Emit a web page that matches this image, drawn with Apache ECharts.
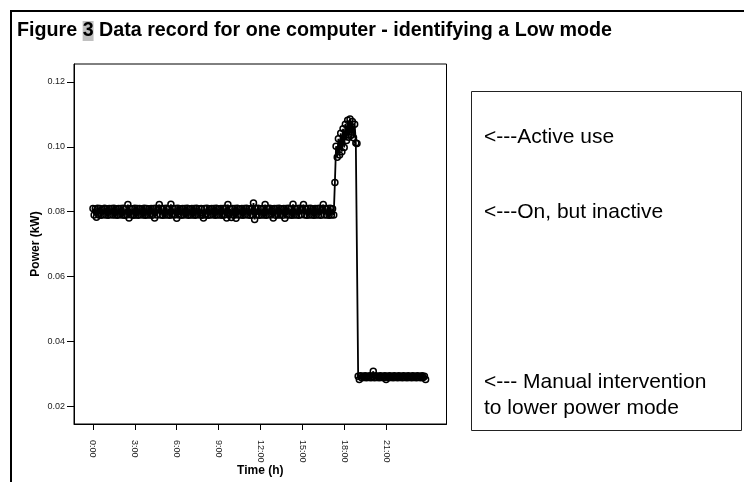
<!DOCTYPE html>
<html>
<head>
<meta charset="utf-8">
<script src="https://cdn.jsdelivr.net/npm/echarts@6/dist/echarts.min.js"></script>
<style>
html,body{margin:0;padding:0;background:#fff;}
#chart{width:744px;height:482px;}
</style>
</head>
<body>
<div id="chart"></div>
<script>
// Sampling: one reading every 5 minutes, starting at 0:00
const sampleMinutes = 5;
const startHour = 0;

// Power (kW) readings
// 0:00 - 17:15  "On, but inactive"
const inactiveKW = [
  0.0810,0.0790,0.0809,0.0783,0.0811,0.0790,0.0810,0.0789,0.0808,0.0791,0.0811,0.0790,
  0.0809,0.0789,0.0810,0.0791,0.0810,0.0790,0.0811,0.0790,0.0809,0.0789,0.0810,0.0791,
  0.0810,0.0790,0.0811,0.0789,0.0809,0.0790,0.0822,0.0781,0.0810,0.0790,0.0809,0.0789,
  0.0811,0.0790,0.0810,0.0789,0.0810,0.0791,0.0809,0.0790,0.0811,0.0789,0.0810,0.0790,
  0.0809,0.0790,0.0810,0.0789,0.0810,0.0781,0.0811,0.0790,0.0809,0.0822,0.0790,0.0810,
  0.0789,0.0810,0.0790,0.0811,0.0790,0.0809,0.0789,0.0823,0.0791,0.0810,0.0790,0.0810,
  0.0780,0.0811,0.0790,0.0809,0.0789,0.0810,0.0790,0.0810,0.0791,0.0811,0.0789,0.0809,
  0.0790,0.0810,0.0790,0.0810,0.0789,0.0811,0.0791,0.0809,0.0790,0.0810,0.0789,0.0781,
  0.0810,0.0790,0.0811,0.0789,0.0809,0.0790,0.0810,0.0791,0.0810,0.0789,0.0811,0.0790,
  0.0809,0.0790,0.0810,0.0789,0.0810,0.0790,0.0811,0.0781,0.0822,0.0790,0.0809,0.0782,
  0.0810,0.0789,0.0810,0.0780,0.0811,0.0790,0.0809,0.0790,0.0810,0.0789,0.0810,0.0791,
  0.0811,0.0790,0.0809,0.0789,0.0810,0.0790,0.0827,0.0776,0.0810,0.0790,0.0811,0.0789,
  0.0809,0.0790,0.0810,0.0790,0.0822,0.0789,0.0810,0.0791,0.0811,0.0790,0.0809,0.0781,
  0.0810,0.0789,0.0810,0.0790,0.0811,0.0790,0.0809,0.0789,0.0810,0.0780,0.0810,0.0790,
  0.0811,0.0790,0.0809,0.0789,0.0823,0.0790,0.0810,0.0790,0.0810,0.0789,0.0811,0.0791,
  0.0809,0.0822,0.0790,0.0810,0.0789,0.0810,0.0790,0.0811,0.0790,0.0809,0.0789,0.0810,
  0.0790,0.0810,0.0790,0.0811,0.0789,0.0809,0.0822,0.0790,0.0810,0.0790,0.0810,0.0789,
  0.0811,0.0790,0.0809,0.0790
];
// 17:20 transition reading
const transitionKW = [0.0890];
// 17:25 - 18:55  "Active use"
const activeKW = [
  0.1002,0.0968,0.1025,0.0975,0.1042,0.0985,0.1056,0.0998,0.1070,0.1020,
  0.1082,0.1030,0.1086,0.1036,0.1078,0.1028,0.1070,0.1012,0.1010
];
// 19:00 - 23:50  after manual intervention (low power mode)
const lowKW = [
  0.0293,0.0283,0.0294,0.0288,0.0293,0.0289,0.0294,0.0288,0.0293,0.0289,0.0294,0.0288,
  0.0293,0.0308,0.0288,0.0294,0.0289,0.0293,0.0288,0.0294,0.0289,0.0293,0.0288,0.0294,
  0.0283,0.0293,0.0288,0.0294,0.0289,0.0293,0.0288,0.0294,0.0289,0.0293,0.0288,0.0294,
  0.0289,0.0293,0.0288,0.0294,0.0289,0.0293,0.0288,0.0294,0.0289,0.0293,0.0288,0.0294,
  0.0289,0.0293,0.0288,0.0294,0.0289,0.0293,0.0288,0.0294,0.0289,0.0293,0.0283
];

const xTickHours = [0, 3, 6, 9, 12, 15, 18, 21];
const xTickLabels = ['0:00','3:00','6:00','9:00','12:00','15:00','18:00','21:00'];
const yTickValues = [0.02, 0.04, 0.06, 0.08, 0.10, 0.12];
const yTickLabels = ['0.02','0.04','0.06','0.08','0.10','0.12'];

const titleText = 'Figure {hl|3} Data record for one computer - identifying a Low mode';
const notes = ['<---Active use', '<---On, but inactive', '<--- Manual intervention', 'to lower power mode'];

const allKW = inactiveKW.concat(transitionKW, activeKW, lowKW);
const seriesData = allKW.map((v, i) => [startHour + i * sampleMinutes / 60, v]);

const chart = echarts.init(document.getElementById('chart'), null, {renderer: 'canvas'});
const FONT = '"Liberation Sans", Arial, sans-serif';

chart.setOption({
  animation: false,
  backgroundColor: '#fff',
  title: {
    text: titleText,
    left: 17,
    top: 21,
    padding: 0,
    textStyle: {
      fontFamily: FONT, fontSize: 19.7, fontWeight: 'bold', color: '#000',
      rich: {
        hl: {fontFamily: FONT, fontSize: 19.7, fontWeight: 'bold', color: '#000', backgroundColor: '#c0c0c0'}
      }
    }
  },
  grid: {
    left: 74, top: 64, width: 372.5, height: 366.5,
    show: true, borderColor: '#000', borderWidth: 1, backgroundColor: '#fff',
    containLabel: false
  },
  xAxis: {
    type: 'value',
    min: -1.36, max: 25.33,
    name: 'Time (h)',
    nameLocation: 'middle',
    nameGap: 41,
    nameMoveOverlap: false,
    nameTextStyle: {fontFamily: FONT, fontSize: 12, fontWeight: 'bold', color: '#000'},
    axisLine: {show: true, onZero: false, lineStyle: {color: '#000', width: 1}},
    splitLine: {show: false},
    axisTick: {show: true, inside: false, length: 6, lineStyle: {color: '#000', width: 1}, customValues: xTickHours},
    axisLabel: {
      customValues: xTickHours,
      rotate: -90, margin: 16,
      hideOverlap: false,
      fontFamily: FONT, fontSize: 9, color: '#222',
      formatter: (v) => xTickLabels[xTickHours.indexOf(Math.round(v))] || ''
    }
  },
  yAxis: {
    type: 'value',
    min: 0.01455, max: 0.12555,
    name: 'Power (kW)',
    nameLocation: 'middle',
    nameGap: 32,
    nameMoveOverlap: false,
    nameTextStyle: {fontFamily: FONT, fontSize: 12, fontWeight: 'bold', color: '#000'},
    axisLine: {show: true, onZero: false, lineStyle: {color: '#000', width: 1}},
    splitLine: {show: false},
    axisTick: {show: true, inside: false, length: 7, lineStyle: {color: '#000', width: 1}, customValues: yTickValues},
    axisLabel: {
      customValues: yTickValues,
      margin: 9,
      hideOverlap: false,
      fontFamily: FONT, fontSize: 9, color: '#222',
      formatter: (v) => {
        const i = yTickValues.findIndex(t => Math.abs(t - v) < 1e-6);
        return i >= 0 ? yTickLabels[i] : '';
      }
    }
  },
  series: [{
    type: 'line',
    data: seriesData,
    symbol: 'circle',
    symbolSize: 6,
    showSymbol: true,
    showAllSymbol: true,
    lineStyle: {color: '#000', width: 1.8},
    itemStyle: {color: 'rgba(0,0,0,0)', borderColor: '#000', borderWidth: 1.5},
    emphasis: {disabled: true},
    z: 3
  }],
  graphic: [
    {type: 'line', shape: {x1: 10, y1: 11, x2: 744, y2: 11}, style: {stroke: '#000', lineWidth: 2}, silent: true},
    {type: 'line', shape: {x1: 11, y1: 10, x2: 11, y2: 482}, style: {stroke: '#000', lineWidth: 2}, silent: true},
    {type: 'rect', shape: {x: 471.5, y: 91.5, width: 270, height: 339}, style: {fill: '#fff', stroke: '#222', lineWidth: 1}, silent: true},
    {type: 'text', style: {text: notes[0], x: 484, y: 137, font: '21px ' + FONT, fill: '#000', verticalAlign: 'middle'}, silent: true},
    {type: 'text', style: {text: notes[1], x: 484, y: 212, font: '21px ' + FONT, fill: '#000', verticalAlign: 'middle'}, silent: true},
    {type: 'text', style: {text: notes[2], x: 484, y: 382, font: '21px ' + FONT, fill: '#000', verticalAlign: 'middle'}, silent: true},
    {type: 'text', style: {text: notes[3], x: 484, y: 408.5, font: '21px ' + FONT, fill: '#000', verticalAlign: 'middle'}, silent: true}
  ]
});
</script>
</body>
</html>
